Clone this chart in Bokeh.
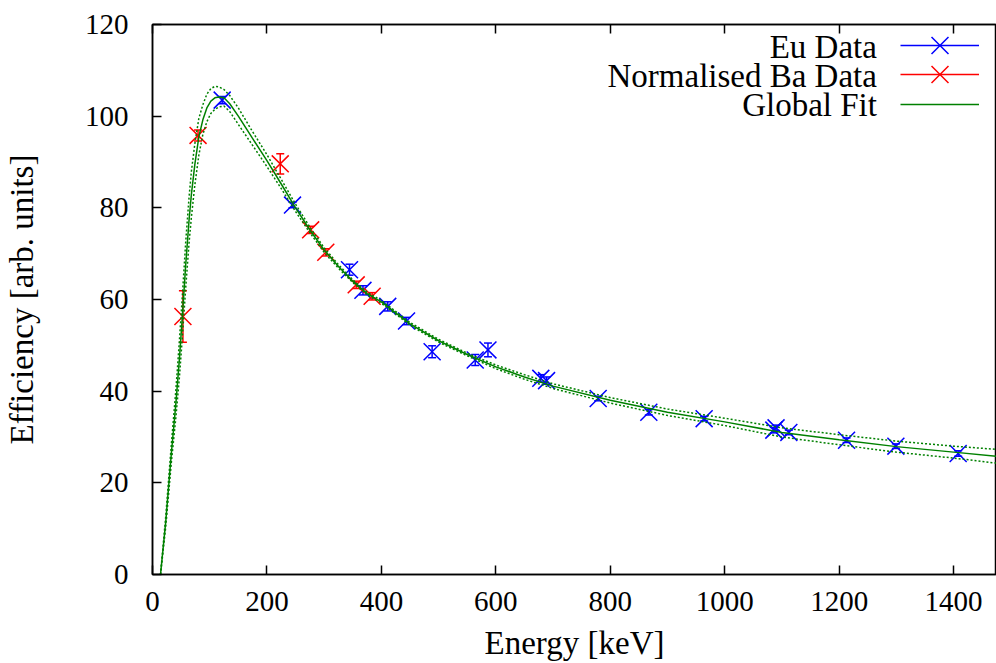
from bokeh.plotting import figure
from bokeh.models import (Range1d, LinearAxis, SingleIntervalTicker, Legend, LegendItem,
                          Label, CustomJSTickFormatter)
from bokeh.core.properties import value
from bokeh.embed import file_html
from bokeh.resources import INLINE

# ---------------- data ----------------
eu_energy = [121.78, 244.70, 344.28, 367.79, 411.12, 443.96, 488.68, 563.99, 586.26,
             678.62, 688.67, 778.90, 867.38, 964.08, 1085.84, 1089.74, 1112.08,
             1212.95, 1299.14, 1408.01]
eu_eff = [103.5, 80.6, 66.5, 62.0, 58.5, 55.3, 48.6, 46.8, 49.0,
          42.8, 42.3, 38.4, 35.4, 34.0, 31.5, 32.0, 31.0,
          29.3, 28.0, 26.4]
eu_err = [0.8, 0.6, 1.2, 1.0, 1.0, 0.8, 1.3, 1.2, 1.5,
          0.8, 0.8, 0.5, 0.6, 0.5, 0.6, 0.6, 0.5,
          0.5, 0.5, 0.6]

ba_energy = [53.16, 79.61, 223.24, 276.40, 302.85, 356.01, 383.85]
ba_eff = [56.3, 95.8, 89.6, 75.2, 70.3, 63.2, 60.7]
ba_err = [5.6, 1.2, 2.2, 0.8, 0.8, 0.8, 0.8]

fit_energy = [14, 23, 33, 41, 47, 52, 58, 64, 68, 74, 81, 88, 95, 102, 109, 116, 125,
              135, 150, 174, 200, 225, 250, 276, 300, 325, 350, 375, 400, 450, 500,
              550, 600, 650, 700, 800, 900, 1000, 1100, 1200, 1300, 1400, 1475]
fit_eff = [0.0, 11.3, 26.5, 37.5, 47.0, 56.0, 67.5, 77.5, 83.0, 89.5, 95.5, 99.2, 101.8,
           103.3, 104.0, 104.2, 104.0, 102.7, 100.0, 95.3, 90.3, 85.2, 80.0, 75.0, 70.8,
           67.2, 64.0, 61.3, 59.5, 54.7, 51.0, 48.0, 45.3, 43.1, 41.1, 38.0, 35.4, 33.3,
           31.0, 29.4, 27.9, 26.7, 25.8]
fit_upper = [0.0, 12.5, 28.5, 40.5, 51.0, 60.5, 72.5, 82.5, 88.0, 94.0, 99.5, 102.5, 104.8,
             106.0, 106.5, 106.4, 105.8, 104.5, 101.8, 96.8, 91.6, 86.2, 80.8, 75.6, 71.3,
             67.6, 64.3, 61.6, 59.8, 55.0, 51.3, 48.3, 45.7, 43.6, 41.6, 38.6, 36.1, 34.1,
             32.0, 30.5, 29.1, 28.0, 27.3]
fit_lower = [0.0, 10.2, 24.5, 34.5, 43.0, 51.5, 62.5, 72.5, 78.0, 85.0, 91.5, 96.0, 98.8,
             100.6, 101.5, 102.0, 102.2, 101.0, 98.2, 93.8, 89.0, 84.2, 79.2, 74.4, 70.3,
             66.8, 63.7, 61.0, 59.2, 54.4, 50.7, 47.7, 44.9, 42.6, 40.6, 37.4, 34.7, 32.5,
             30.0, 28.3, 26.7, 25.4, 24.3]

series_labels = ["Eu Data", "Normalised Ba Data", "Global Fit"]
x_title = "Energy [keV]"
y_title = "Efficiency [arb. units]"
x_ticks_interval = 200
y_ticks_interval = 20

# ---------------- figure ----------------
FONT = "'Liberation Serif', serif"
EU_COL = "#0000ff"
BA_COL = "#ff0000"
FIT_COL = "#008000"

p = figure(width=996, height=663, x_range=Range1d(0, 1475), y_range=Range1d(0, 120),
           output_backend="svg", toolbar_location=None,
           min_border_left=148, min_border_right=0, min_border_top=24, min_border_bottom=88,
           x_axis_label=x_title, y_axis_label=y_title)
p.grid.visible = False
p.outline_line_color = "black"
p.outline_line_width = 1.5
p.background_fill_color = "white"
p.border_fill_color = "white"

p.xaxis.ticker = SingleIntervalTicker(interval=x_ticks_interval, num_minor_ticks=0)
p.yaxis.ticker = SingleIntervalTicker(interval=y_ticks_interval, num_minor_ticks=0)

for ax in (p.xaxis[0], p.yaxis[0]):
    ax.axis_line_width = 1.5
    ax.axis_line_color = "black"
    ax.major_tick_in = 9
    ax.major_tick_out = 0
    ax.major_tick_line_width = 1.5
    ax.minor_tick_line_color = None
    ax.major_label_text_font = FONT
    ax.major_label_text_font_size = "29px"
    ax.major_label_text_color = "black"
    ax.axis_label_text_font = FONT
    ax.axis_label_text_font_size = "33px"
    ax.axis_label_text_font_style = "normal"
    ax.axis_label_text_color = "black"

p.xaxis.major_label_standoff = 17
p.yaxis.major_label_standoff = 24
p.xaxis.axis_label_standoff = 11
p.yaxis.axis_label_standoff = 42

top_axis = LinearAxis(ticker=SingleIntervalTicker(interval=x_ticks_interval, num_minor_ticks=0),
                      formatter=CustomJSTickFormatter(code="return ''"),
                      major_tick_in=9, major_tick_out=0,
                      major_tick_line_width=1.5, axis_line_width=1.5,
                      minor_tick_line_color=None, major_label_standoff=0)
p.add_layout(top_axis, "above")

# ---------------- data marks ----------------
eu_lo = [v - e for v, e in zip(eu_eff, eu_err)]
eu_hi = [v + e for v, e in zip(eu_eff, eu_err)]
ba_lo = [v - e for v, e in zip(ba_eff, ba_err)]
ba_hi = [v + e for v, e in zip(ba_eff, ba_err)]

eu_bar = p.segment(x0=eu_energy, y0=eu_lo, x1=eu_energy, y1=eu_hi,
                   line_color=EU_COL, line_width=1.5)
p.scatter(eu_energy, eu_lo, marker="dash", size=8, line_color=EU_COL, line_width=1.5)
p.scatter(eu_energy, eu_hi, marker="dash", size=8, line_color=EU_COL, line_width=1.5)
eu_pts = p.scatter(eu_energy, eu_eff, marker="x", size=24, line_color=EU_COL, line_width=1.5)

ba_bar = p.segment(x0=ba_energy, y0=ba_lo, x1=ba_energy, y1=ba_hi,
                   line_color=BA_COL, line_width=1.5)
p.scatter(ba_energy, ba_lo, marker="dash", size=8, line_color=BA_COL, line_width=1.5)
p.scatter(ba_energy, ba_hi, marker="dash", size=8, line_color=BA_COL, line_width=1.5)
ba_pts = p.scatter(ba_energy, ba_eff, marker="x", size=24, line_color=BA_COL, line_width=1.5)

p.line(fit_energy, fit_upper, line_color=FIT_COL, line_width=1.5, line_dash="2 2")
p.line(fit_energy, fit_lower, line_color=FIT_COL, line_width=1.5, line_dash="2 2")
fit_line = p.line(fit_energy, fit_eff, line_color=FIT_COL, line_width=1.5)

# ---------------- key: sample glyphs (Legend) with text to their left ----------------
def add_key(label, renderers, ypos, text_y):
    leg = Legend(items=[LegendItem(label=value(" "), renderers=renderers)],
                 location=(748, ypos), padding=0, margin=0, spacing=0,
                 border_line_color=None, background_fill_alpha=0,
                 glyph_width=79, glyph_height=60, label_height=20, label_standoff=0,
                 label_text_font=FONT, label_text_font_size="12px")
    p.add_layout(leg)
    p.add_layout(Label(x=1266, y=text_y, text=label, text_align="right",
                       text_baseline="middle", text_font=FONT, text_font_size="33px",
                       text_color="black"))

add_key(series_labels[0], [eu_bar, eu_pts], 499, 115.2)
add_key(series_labels[1], [ba_bar, ba_pts], 470, 108.8)
add_key(series_labels[2], [fit_line], 440, 102.4)

open("out.html", "w").write(file_html(p, INLINE))
